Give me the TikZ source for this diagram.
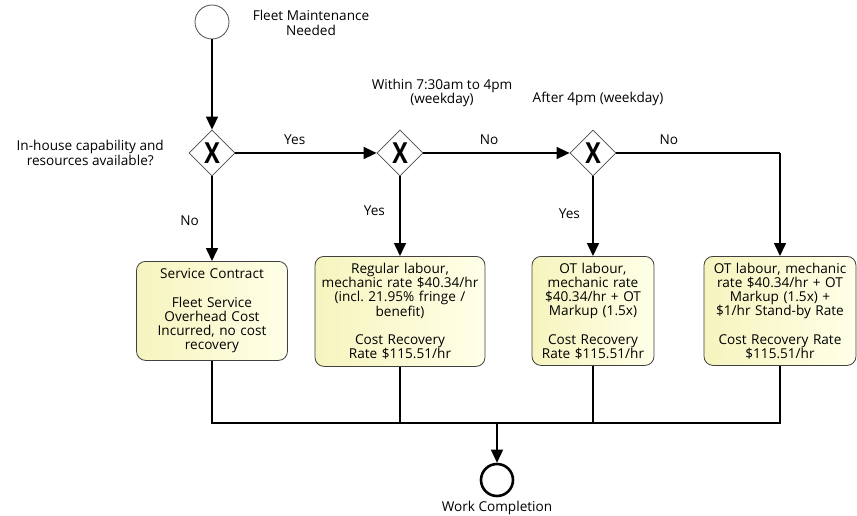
\documentclass[tikz,border=0pt]{standalone}
\usepackage{fontspec}
\setmainfont{Open Sans}
\usetikzlibrary{shapes.geometric,arrows.meta}
\definecolor{taskleft}{RGB}{246,244,190}
\definecolor{taskright}{RGB}{255,255,232}

\begin{document}
\frenchspacing
\begin{tikzpicture}[x=1pt,y=-1pt,
	font=\fontsize{13.6}{14.2}\selectfont,
	flow/.style={line width=1.6pt,-{Triangle[length=13pt,width=12pt]}},
	line/.style={line width=1.6pt},
	gateway/.style={draw=black!70,diamond,aspect=1,inner sep=0,minimum size=46pt,line width=0.8pt,fill=white,font=\fontsize{29}{29}\bfseries\selectfont},
	task/.style={draw=black!75,rounded corners=9pt,line width=0.8pt,align=center,inner sep=2pt,left color=taskleft,right color=taskright,anchor=north},
	label/.style={align=center,inner sep=0}]
	\useasboundingbox (0,0) rectangle (857,516);
	\node[draw=black!70,circle,inner sep=0,minimum size=34pt,line width=0.8pt] (start) at (212,22) {};
	\node[label] (startlbl) at (311,23) {Fleet Maintenance\\Needed};
	\node[gateway] (g1) at (212,153) {\scalebox{0.8}[1]{X}};
	\node[gateway] (g2) at (400,153) {\scalebox{0.8}[1]{X}};
	\node[gateway] (g3) at (593,153) {\scalebox{0.8}[1]{X}};
	\node[label,anchor=east] (q1) at (164,153) {In-house capability and\\resources available?};
	\node[label] (q2) at (442,93) {Within 7:30am to 4pm\\(weekday)};
	\node[label] (q3) at (598,99) {After 4pm (weekday)};
	\node[task,minimum width=151pt,minimum height=99pt,text width=147pt] (t1) at (212,261) {Service Contract\\[14.2pt]Fleet Service\\Overhead Cost\\Incurred, no cost\\recovery};
	\node[task,minimum width=168pt,minimum height=110pt,text width=166pt] (t2) at (400,256) {Regular labour,\\mechanic rate \$40.34/hr\\(incl. 21.95\% fringe /\\benefit)\\[14.2pt]Cost Recovery\\Rate \$115.51/hr};
	\node[task,minimum width=120pt,minimum height=109pt,text width=118pt] (t3) at (593,256) {OT labour,\\mechanic rate\\\$40.34/hr + OT\\Markup (1.5x)\\[14.2pt]Cost Recovery\\Rate \$115.51/hr};
	\node[task,minimum width=150pt,minimum height=109pt,text width=148pt] (t4) at (780,256) {OT labour, mechanic\\rate \$40.34/hr + OT\\Markup (1.5x) +\\\$1/hr Stand-by Rate\\[14.2pt]Cost Recovery Rate\\\$115.51/hr};
	\node[draw,circle,inner sep=0,minimum size=32pt,line width=2.6pt] (end) at (497,480) {};
	\node[label] (endlbl) at (497,508) {Work Completion};
	\coordinate (bend) at (780,153);
	\coordinate (join1) at (212,423);
	\coordinate (join4) at (780,423);
	\coordinate (merge) at (497,423);
	\draw[flow] (start) -- (g1);
	\draw[flow] (g1) -- node[above=4pt,pos=0.42] {Yes} (g2);
	\draw[flow] (g2) -- node[above=4pt,pos=0.45] {No} (g3);
	\draw[flow] (g1) -- node[left=9pt,pos=0.52] {No} (t1);
	\draw[flow] (g2) -- node[left=11pt,pos=0.43] {Yes} (t2);
	\draw[flow] (g3) -- node[left=9pt,pos=0.47] {Yes} (t3);
	\draw[line] (g3) -- node[above=4pt,pos=0.32] {No} (bend);
	\draw[flow] (bend) -- (t4);
	\draw[line] (t1) -- (join1) -- (join4) -- (t4);
	\draw[line] (t2) -- (t2 |- join1);
	\draw[line] (t3) -- (t3 |- join1);
	\draw[flow] (merge) -- (end);
\end{tikzpicture}
\end{document}
